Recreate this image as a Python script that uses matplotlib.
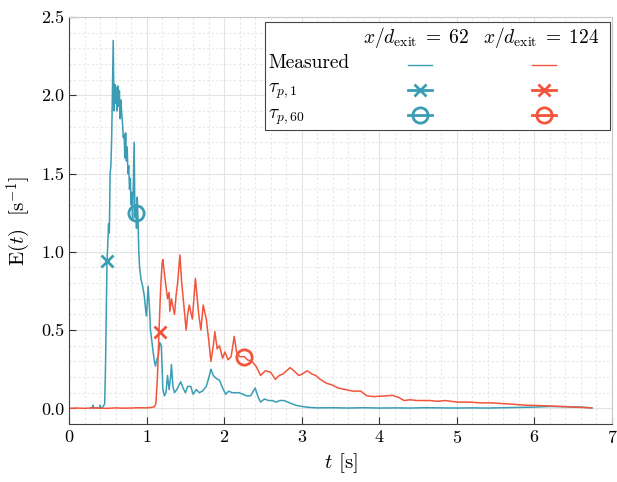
import matplotlib
matplotlib.use("Agg")
import matplotlib.pyplot as plt
from matplotlib.lines import Line2D
from matplotlib.patches import Rectangle
from matplotlib.ticker import MultipleLocator

plt.rcParams['font.family'] = 'serif'
plt.rcParams['font.serif'] = ['cmr10', 'DejaVu Serif']
plt.rcParams['mathtext.fontset'] = 'cm'
plt.rcParams['axes.formatter.use_mathtext'] = True

# ---- data ----
t_62 = [0.27, 0.30, 0.31, 0.32, 0.36, 0.39, 0.40, 0.41, 0.44, 0.46, 0.47, 0.48, 0.49, 0.50,
        0.51, 0.52, 0.53, 0.54, 0.55, 0.56, 0.57, 0.58, 0.59, 0.60, 0.61, 0.62, 0.63, 0.64,
        0.65, 0.66, 0.67, 0.68, 0.69, 0.70, 0.71, 0.72, 0.73, 0.74, 0.75, 0.76, 0.77, 0.78,
        0.79, 0.80, 0.81, 0.82, 0.83, 0.84, 0.85, 0.86, 0.87, 0.88, 0.89, 0.90, 0.91, 0.93,
        0.95, 0.97, 0.99, 1.00, 1.02, 1.04, 1.05, 1.06, 1.08, 1.10, 1.115, 1.13, 1.15, 1.17,
        1.19, 1.21, 1.23, 1.25, 1.27, 1.29, 1.31, 1.32, 1.34, 1.36, 1.39, 1.42, 1.44, 1.47,
        1.50, 1.53, 1.57, 1.60, 1.64, 1.68, 1.72, 1.77, 1.81, 1.83, 1.86, 1.90, 1.94, 1.98,
        2.02, 2.06, 2.10, 2.14, 2.19, 2.24, 2.29, 2.34, 2.40, 2.44, 2.47, 2.52, 2.57, 2.62,
        2.67, 2.72, 2.77, 2.82, 2.87, 2.92, 2.97, 3.03, 3.10, 3.20, 3.40, 3.60, 3.80, 4.00,
        4.20, 4.40, 4.60, 4.80, 5.00, 5.20, 5.40, 5.60, 5.80, 6.00, 6.20, 6.40, 6.60, 6.74]
E_62 = [0.0, 0.005, 0.02, 0.0, 0.005, 0.0, 0.02, 0.0, 0.01, 0.03, 0.25, 0.60, 0.94, 1.05,
        1.18, 1.12, 1.50, 1.55, 1.72, 2.05, 2.35, 1.90, 2.07, 1.95, 2.05, 1.90, 2.06, 1.93,
        2.03, 1.85, 1.97, 1.88, 1.82, 1.73, 1.75, 1.60, 1.76, 1.58, 1.67, 1.50, 1.55, 1.40,
        1.47, 1.30, 1.38, 1.20, 1.45, 1.70, 1.22, 1.30, 1.15, 1.35, 1.20, 1.00, 0.90, 0.82,
        0.78, 0.72, 0.62, 0.59, 0.78, 0.62, 0.50, 0.46, 0.38, 0.30, 0.27, 0.31, 0.33, 0.42,
        0.40, 0.12, 0.08, 0.10, 0.21, 0.12, 0.20, 0.28, 0.14, 0.10, 0.12, 0.15, 0.17, 0.13,
        0.10, 0.14, 0.14, 0.09, 0.12, 0.10, 0.11, 0.14, 0.21, 0.25, 0.21, 0.19, 0.18, 0.13,
        0.09, 0.11, 0.10, 0.10, 0.10, 0.09, 0.08, 0.08, 0.13, 0.07, 0.04, 0.06, 0.05, 0.05,
        0.04, 0.05, 0.05, 0.04, 0.03, 0.02, 0.015, 0.01, 0.006, 0.003, 0.004, 0.002, 0.004, 0.002,
        0.003, 0.002, 0.004, 0.003, 0.002, 0.003, 0.002, 0.004, 0.006, 0.008, 0.012, 0.010, 0.008, 0.003]

t_124 = [0.0, 0.10, 0.20, 0.30, 0.40, 0.50, 0.60, 0.70, 0.80, 0.90, 1.00, 1.05, 1.10, 1.12,
         1.14, 1.16, 1.18, 1.20, 1.21, 1.23, 1.25, 1.27, 1.29, 1.30, 1.32, 1.34, 1.36, 1.38,
         1.40, 1.43, 1.45, 1.48, 1.51, 1.53, 1.55, 1.59, 1.61, 1.63, 1.67, 1.70, 1.73, 1.77,
         1.80, 1.83, 1.86, 1.88, 1.91, 1.94, 1.98, 2.01, 2.05, 2.09, 2.13, 2.16, 2.20, 2.26,
         2.30, 2.36, 2.41, 2.47, 2.53, 2.60, 2.66, 2.71, 2.76, 2.85, 2.90, 2.96, 3.01, 3.07,
         3.13, 3.18, 3.24, 3.32, 3.39, 3.47, 3.56, 3.66, 3.76, 3.84, 3.93, 4.02, 4.10, 4.17,
         4.25, 4.32, 4.40, 4.48, 4.55, 4.65, 4.75, 4.85, 5.00, 5.15, 5.30, 5.45, 5.60, 5.75,
         5.90, 6.05, 6.20, 6.35, 6.50, 6.74]
E_124 = [0.0, 0.002, 0.0, 0.003, 0.001, 0.0, 0.003, 0.001, 0.002, 0.004, 0.003, 0.005, 0.01, 0.03,
         0.20, 0.49, 0.75, 0.93, 0.95, 0.86, 0.78, 0.70, 0.74, 0.62, 0.70, 0.65, 0.60, 0.72,
         0.80, 0.98, 0.82, 0.66, 0.50, 0.60, 0.66, 0.57, 0.70, 0.83, 0.61, 0.50, 0.66, 0.57,
         0.44, 0.30, 0.40, 0.49, 0.38, 0.40, 0.32, 0.36, 0.31, 0.33, 0.46, 0.36, 0.33, 0.33,
         0.31, 0.30, 0.27, 0.21, 0.24, 0.23, 0.185, 0.21, 0.22, 0.26, 0.24, 0.21, 0.22, 0.24,
         0.22, 0.21, 0.185, 0.16, 0.15, 0.13, 0.12, 0.11, 0.11, 0.08, 0.075, 0.078, 0.08, 0.083,
         0.07, 0.05, 0.055, 0.05, 0.05, 0.05, 0.045, 0.05, 0.04, 0.04, 0.035, 0.035, 0.03, 0.025,
         0.02, 0.018, 0.015, 0.012, 0.008, 0.003]

# characteristic points (tau_p,1 and tau_p,60)
tau1_t = [0.49, 1.17]
tau1_E = [0.94, 0.49]
tau60_t = [0.87, 2.26]
tau60_E = [1.25, 0.33]

blue = '#3A9DB4'
red = '#F2553B'

fig = plt.figure(figsize=(6.17, 4.82), dpi=100)
L, R, T, B = 69, 612, 17, 424
ax = fig.add_axes([L/617, 1-B/482, (R-L)/617, (B-T)/482])

ax.plot(t_62, E_62, color=blue, lw=1.1)
ax.plot(t_124, E_124, color=red, lw=1.1)
ax.plot(tau1_t[0], tau1_E[0], 'x', color=blue, ms=8, mew=2)
ax.plot(tau1_t[1], tau1_E[1], 'x', color=red, ms=8, mew=2)
ax.plot(tau60_t[0], tau60_E[0], 'o', mfc='none', color=blue, ms=11, mew=2)
ax.plot(tau60_t[1], tau60_E[1], 'o', mfc='none', color=red, ms=11, mew=2)

ax.set_xlim(0, 7)
ax.set_ylim(-0.1, 2.5)
ax.set_xticks(range(0, 8))
ax.set_yticks([0.0, 0.5, 1.0, 1.5, 2.0, 2.5])
ax.set_yticklabels(['0.0', '0.5', '1.0', '1.5', '2.0', '2.5'])
ax.xaxis.set_minor_locator(MultipleLocator(0.2))
ax.yaxis.set_minor_locator(MultipleLocator(0.1))
ax.grid(which='major', color='#e3e3e3', lw=0.8)
ax.grid(which='minor', color='#e8e8e8', lw=0.8, ls=(0, (2, 2)))
ax.set_axisbelow(True)
ax.tick_params(which='both', direction='in', labelsize=13, color='#333333')
ax.tick_params(which='minor', length=0)
ax.tick_params(which='major', length=5)
for s in ['left', 'bottom']:
    ax.spines[s].set_color('#404040')
for s in ['top', 'right']:
    ax.spines[s].set_color('#c8c8c8')

ax.set_xlabel(r'$t$ [s]', fontsize=15, labelpad=4)
ax.set_ylabel(r'$\mathrm{E}(t)\ \ [\mathrm{s}^{-1}]$', fontsize=15, labelpad=6)

# ---- table-like legend ----
tr = ax.transAxes
def fx(px):
    return (px - L) / (R - L)
def fy(py):
    return (B - py) / (B - T)

ax.add_patch(Rectangle((fx(265), fy(130)), fx(610) - fx(265), fy(22) - fy(130),
                       transform=tr, facecolor='white', edgecolor='#444444', lw=0.8, zorder=5))
ax.text(fx(416), fy(38), r'$x/d_{\mathrm{exit}}\;=\;62$', transform=tr, ha='center', va='center', fontsize=14, zorder=6)
ax.text(fx(541), fy(38), r'$x/d_{\mathrm{exit}}\;=\;124$', transform=tr, ha='center', va='center', fontsize=14, zorder=6)
ax.text(fx(268), fy(63), 'Measured', transform=tr, ha='left', va='center', fontsize=14, zorder=6)
ax.text(fx(268), fy(91), r'$\tau_{p,1}$', transform=tr, ha='left', va='center', fontsize=14, zorder=6)
ax.text(fx(268), fy(117), r'$\tau_{p,60}$', transform=tr, ha='left', va='center', fontsize=14, zorder=6)

rows = [(65, dict(marker=None)), (90, dict(marker='x', ms=8, mew=2)), (115, dict(marker='o', ms=11, mew=2, mfc='none'))]
for cx, col in [(420, blue), (544, red)]:
    for i, (ry, kw) in enumerate(rows):
        lw = 1.0 if i == 0 else 2.0
        ax.add_line(Line2D([fx(cx - 12), fx(cx + 12)], [fy(ry), fy(ry)], transform=tr,
                           color=col, lw=lw, zorder=6))
        if kw['marker'] is not None:
            ax.add_line(Line2D([fx(cx)], [fy(ry)], transform=tr, color=col, lw=0, zorder=6, **kw))

fig.savefig('out.png', dpi=100)
